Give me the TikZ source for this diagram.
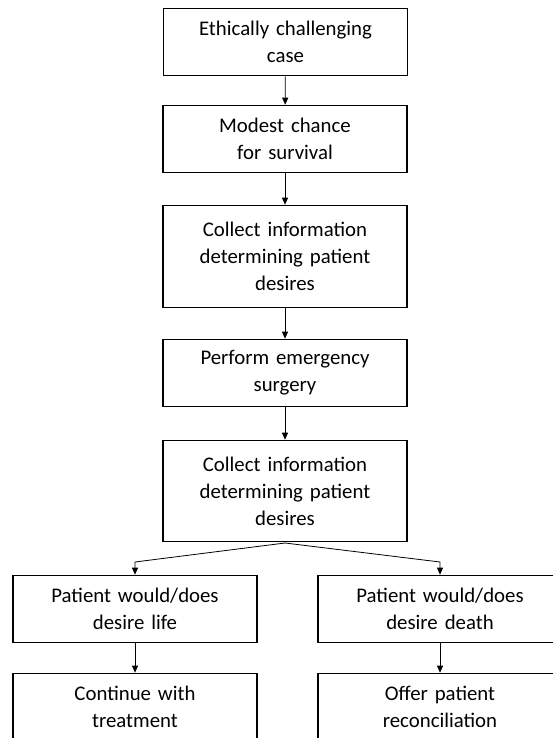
\documentclass[tikz,border=0pt]{standalone}
\usepackage{fontspec}
\setmainfont{Carlito}
\usetikzlibrary{arrows.meta,positioning}

% look of the flow chart
\tikzset{
  stepbox/.style={draw, line width=1.6pt, align=center, inner xsep=0pt, inner ysep=0pt,
    text width=244pt, font=\fontsize{20.8}{27}\selectfont},
  flow/.style={line width=0.8pt, -{Triangle[length=7pt,width=6pt]}}
}

\begin{document}
\begin{tikzpicture}[x=1pt,y=-1pt]
  \useasboundingbox (0,0) rectangle (553,738);
  \clip (0,0) rectangle (553,738);

  % main column
  \node[stepbox, minimum height=67pt] (case) at (285.5,42) {Ethically challenging\\case};
  \node[stepbox, minimum height=67pt] (chance) at (285,139) {Modest chance\\for survival};
  \node[stepbox, minimum height=102pt] (collectA) at (285,256.5) {Collect information\\determining patient\\desires};
  \node[stepbox, minimum height=67pt] (surgery) at (285,373) {Perform emergency\\surgery};
  \node[stepbox, minimum height=101pt] (collectB) at (285,491) {Collect information\\determining patient\\desires};

  % the two branches
  \node[stepbox, minimum height=67pt] (life) at (135,609) {Patient would/does\\desire life};
  \node[stepbox, minimum height=67pt] (death) at (440,609) {Patient would/does\\desire death};
  \node[stepbox, minimum height=67pt] (treat) at (135,707) {Continue with\\treatment};
  \node[stepbox, minimum height=67pt] (reconcile) at (440,707) {Offer patient\\reconciliation};

  \coordinate (split) at (285,543);
  \coordinate (turnL) at (135,562);
  \coordinate (turnR) at (440,562);

  \draw[flow] (case) -- (chance);
  \draw[flow] (chance) -- (collectA);
  \draw[flow] (collectA) -- (surgery);
  \draw[flow] (surgery) -- (collectB);
  \draw[flow] (split) -- (turnL) -- (life);
  \draw[flow] (split) -- (turnR) -- (death);
  \draw[flow] (life) -- (treat);
  \draw[flow] (death) -- (reconcile);
\end{tikzpicture}
\end{document}
